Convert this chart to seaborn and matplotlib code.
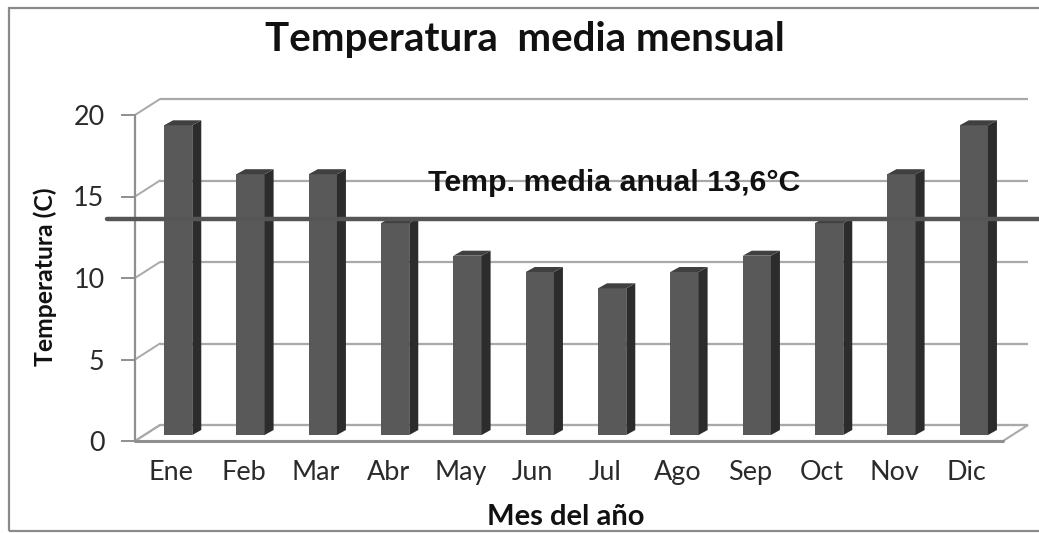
import matplotlib
matplotlib.use("Agg")
import matplotlib.pyplot as plt
import matplotlib.transforms as mtransforms
from matplotlib.patches import Polygon, Rectangle
from matplotlib.lines import Line2D
import seaborn as sns
import pandas as pd

# ---- data ----
months = ["Ene", "Feb", "Mar", "Abr", "May", "Jun", "Jul", "Ago", "Sep", "Oct", "Nov", "Dic"]
temps = [19, 16, 16, 13, 11, 10, 9, 10, 11, 13, 16, 19]
annual_mean = 13.6
y_ticks = [0, 5, 10, 15, 20]
title_text = "Temperatura  media mensual"
mean_label = "Temp. media anual 13,6°C"
xlabel_text = "Mes del año"
ylabel_text = "Temperatura (C)"

sns.set_theme(style="white")
plt.rcParams['font.family'] = ['Lato', 'DejaVu Sans']

W, H = 1039, 533
fig = plt.figure(figsize=(W / 100, H / 100), dpi=100)
fig.patch.set_facecolor("white")

# front plane of the pseudo-3D box in pixels
x0p, x1p, y0p, y20p = 135, 1003, 441, 115
ax = fig.add_axes([x0p / W, (H - y0p) / H, (x1p - x0p) / W, (y0p - y20p) / H])
ux = (x1p - x0p) / 12.0
uy = (y0p - y20p) / 20.0
px2x = lambda p: p / ux
px2y = lambda p: p / uy

df = pd.DataFrame({"Mes": months, "Temp": temps})
sns.barplot(data=df, x="Mes", y="Temp", ax=ax, color="#595959", width=0.39,
            saturation=1, zorder=4, errorbar=None)
ax.set_xlim(-0.5, 11.5)
ax.set_ylim(0, 20)
ax.set_xlabel("")
ax.set_ylabel("")
ax.set_facecolor("none")
for s in ax.spines.values():
    s.set_visible(False)

grid_c = "#a9a9a9"
axis_c = "#8f8f8f"
dx, dy = px2x(25), px2y(16)

# floor
floor = Polygon([(-0.5, 0), (11.5, 0), (11.5 + dx, dy), (-0.5 + dx, dy)], closed=True,
                facecolor="white", edgecolor=grid_c, lw=1.5, zorder=1, clip_on=False)
ax.add_patch(floor)
# back wall gridlines + left wall diagonals
for v in y_ticks:
    ax.plot([-0.5 + dx, 11.5 + dx], [v + dy, v + dy], color=grid_c, lw=1.6, zorder=1,
            clip_on=False, solid_capstyle="butt")
    ax.plot([-0.5, -0.5 + dx], [v, v + dy], color=grid_c, lw=1.4, zorder=1, clip_on=False)
# front floor edge and y axis line
ax.plot([-0.5, 11.5], [0, 0], color=axis_c, lw=2.2, zorder=2, clip_on=False)
ax.plot([-0.5, -0.5], [0, 20], color=axis_c, lw=1.6, zorder=2, clip_on=False)

# bars: shift to mid depth and add side / top faces
bx, by = px2x(7), px2y(6)
sdx, sdy = px2x(9), px2y(5)
for p in ax.patches:
    if not isinstance(p, Rectangle) or p.get_height() <= 0:
        continue
    p.set_x(p.get_x() + bx)
    p.set_y(by)
    p.set_edgecolor("none")
    xl = p.get_x()
    xr = xl + p.get_width()
    b = p.get_y()
    t = b + p.get_height()
    ax.add_patch(Polygon([(xr, b), (xr + sdx, b + sdy), (xr + sdx, t + sdy), (xr, t)],
                         closed=True, facecolor="#2c2c2c", edgecolor="none", zorder=4))
    ax.add_patch(Polygon([(xl, t), (xr, t), (xr + sdx, t + sdy), (xl + sdx, t + sdy)],
                         closed=True, facecolor="#404040", edgecolor="none", zorder=4))

# ticks
ax.set_yticks(y_ticks)
ax.set_yticklabels([str(v) for v in y_ticks])
ax.tick_params(axis="y", left=True, length=10, width=1.4, color=axis_c, pad=12,
               labelcolor="#2a2a2a")
ax.tick_params(axis="x", bottom=False, pad=8, labelcolor="#2a2a2a")

# mean line spanning beyond the plot
trans = mtransforms.blended_transform_factory(fig.transFigure, ax.transData)
ax.add_line(Line2D([107 / W, 1.0], [annual_mean, annual_mean], transform=trans,
                   color="#555555", lw=3.2, zorder=6, clip_on=False))

# texts
title = fig.text(525 / W, (H - 39) / H, title_text, ha="center", va="center",
                 fontsize=26, fontweight="bold", color="#111111")
ann = fig.text(614 / W, (H - 183) / H, mean_label, ha="center", va="center",
               fontsize=15, fontweight="bold", color="#111111",
               family=["Liberation Sans", "DejaVu Sans"], zorder=7)
ylab = fig.text(45 / W, (H - 277) / H, ylabel_text, ha="center", va="center", rotation=90,
                fontsize=14, fontweight="bold", color="#111111")
xlab = fig.text(566 / W, (H - 517) / H, xlabel_text, ha="center", va="center",
                fontsize=16, fontweight="bold", color="#111111")

# chart frame
fig.add_artist(Rectangle((9 / W, (H - 531) / H), 1.2, (531 - 8) / H, transform=fig.transFigure,
                         fill=False, edgecolor="#8a8a8a", lw=1.6))

# fit text sizes to measured widths
fig.canvas.draw()
r = fig.canvas.get_renderer()
def fit(t, target, use_h=False):
    bb = t.get_window_extent(r)
    cur = bb.height if use_h else bb.width
    t.set_fontsize(t.get_fontsize() * target / cur)

fit(title, 520)
fit(ann, 375)
fit(ylab, 180, use_h=True)
fit(xlab, 158)
lab0 = ax.get_xticklabels()[0]
lab0.set_fontsize(16)
fig.canvas.draw()
w0 = lab0.get_window_extent(r).width
fs = 16 * 45 / w0
for lab in ax.get_xticklabels() + ax.get_yticklabels():
    lab.set_fontsize(fs)

fig.savefig("out.png", dpi=100, facecolor="white")
